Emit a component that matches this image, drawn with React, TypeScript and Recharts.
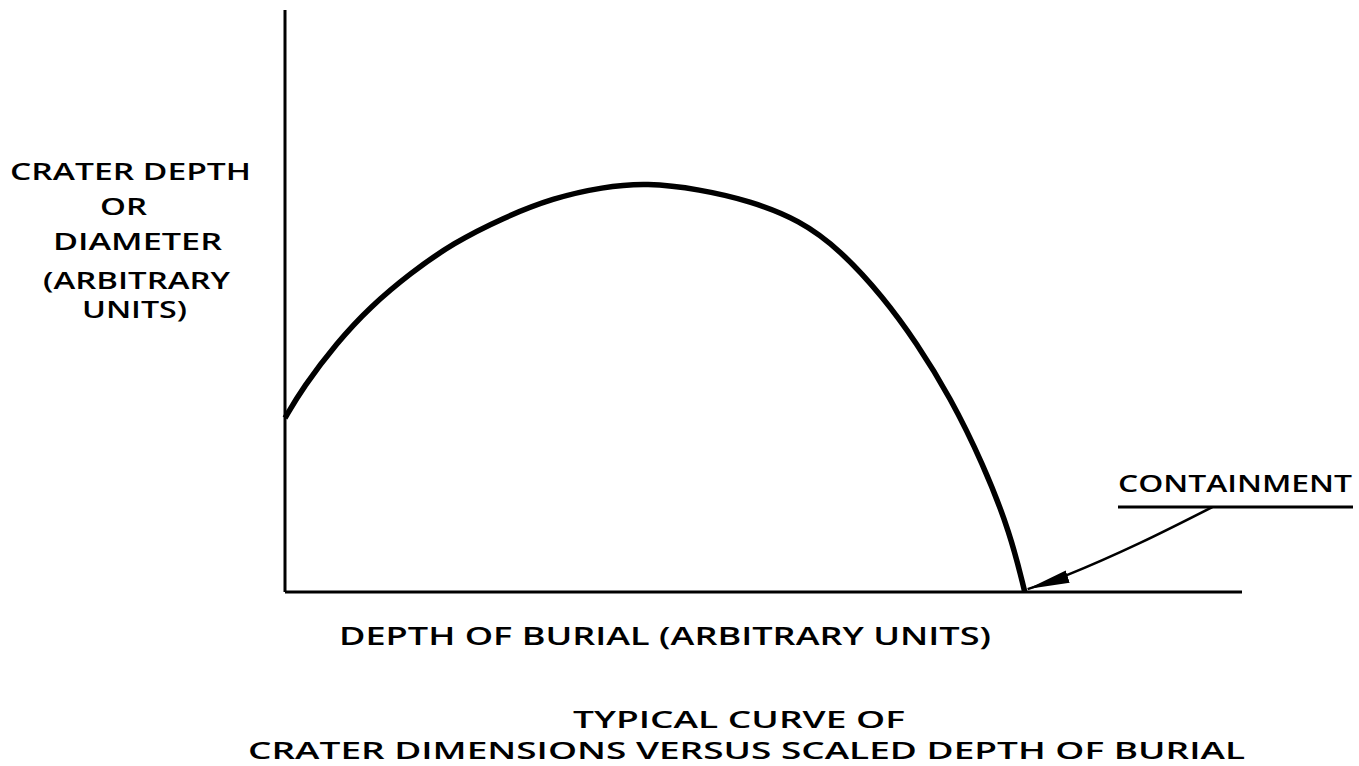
import React from "react";
import { LineChart, Line, XAxis, YAxis, ReferenceLine } from "recharts";

// Typical curve of crater dimension vs depth of burial (arbitrary units)
const depthOfBurial = [0, 1.9, 5.4, 8.9, 13.1, 17.6, 22.8, 28.0, 33.2, 37.8, 43.3, 48.6, 53.8, 58.0, 62.5, 66.0, 69.5, 72.9, 75.8, 77.3];
const craterSize = [29.9, 35.2, 42.8, 49.0, 54.8, 60.0, 64.3, 67.7, 69.6, 70.3, 69.2, 67.2, 63.9, 58.8, 50.7, 42.8, 33.5, 22.2, 10.1, 0];

// Leader arrow from the "CONTAINMENT" label to the containment point
const arrowX = [96.9, 89.3, 81.7, 77.6];
const arrowY = [14.6, 8.4, 2.9, 0.5];

const curveData = depthOfBurial.map((x, i) => ({ x, y: craterSize[i] }));
const arrowData = arrowX.map((x, i) => ({ x, a: arrowY[i] }));

const FONT = "'Open Sans', 'DejaVu Sans', sans-serif";

const texts = [
  { t: "CRATER DEPTH", x: 10, y: 180, w: 241, s: 23 },
  { t: "OR", x: 100, y: 215, w: 47, s: 23 },
  { t: "DIAMETER", x: 53, y: 250, w: 169, s: 23 },
  { t: "(ARBITRARY", x: 43, y: 289, w: 187, s: 23 },
  { t: "UNITS)", x: 82, y: 318, w: 105, s: 23 },
  { t: "CONTAINMENT", x: 1118, y: 492, w: 234, s: 24 },
  { t: "DEPTH OF BURIAL (ARBITRARY UNITS)", x: 339, y: 645, w: 652, s: 26 },
  { t: "TYPICAL CURVE OF", x: 573, y: 728, w: 332, s: 23 },
  { t: "CRATER DIMENSIONS VERSUS SCALED DEPTH OF BURIAL", x: 248, y: 759, w: 997, s: 23 },
];

export default function App() {
  return (
    <div style={{ position: "absolute", left: 0, top: 0, width: 1359, height: 766, background: "#fff" }}>
      <svg width={0} height={0} style={{ position: "absolute" }}>
        <defs>
          <marker
            id="arrowHead"
            markerUnits="userSpaceOnUse"
            markerWidth={44}
            markerHeight={16}
            refX={42}
            refY={8}
            orient="auto"
          >
            <path d="M0,1.5 L42,8 L0,14.5 Z" fill="#000" />
          </marker>
        </defs>
      </svg>
      <LineChart
        width={1359}
        height={766}
        data={curveData}
        margin={{ top: 10, right: 117, bottom: 174, left: 285 }}
      >
        <XAxis dataKey="x" type="number" domain={[0, 100]} hide />
        <YAxis type="number" domain={[0, 100]} hide />
        <ReferenceLine x={0} stroke="#000" strokeWidth={3} />
        <ReferenceLine y={0} stroke="#000" strokeWidth={3} />
        <Line
          dataKey="y"
          type="basis"
          stroke="#000"
          strokeWidth={5.5}
          dot={false}
          isAnimationActive={false}
        />
        <Line
          data={arrowData}
          dataKey="a"
          type="natural"
          stroke="#000"
          strokeWidth={2.5}
          dot={false}
          markerEnd="url(#arrowHead)"
          isAnimationActive={false}
        />
      </LineChart>
      <svg
        width={1359}
        height={766}
        style={{ position: "absolute", left: 0, top: 0, pointerEvents: "none" }}
      >
        {texts.map((d) => (
          <text
            key={d.t}
            x={d.x}
            y={d.y}
            textLength={d.w}
            lengthAdjust="spacingAndGlyphs"
            fontFamily={FONT}
            fontWeight={600}
            fontSize={d.s}
            fill="#000"
          >
            {d.t}
          </text>
        ))}
        <line x1={1118} y1={507} x2={1353} y2={507} stroke="#000" strokeWidth={3} />
      </svg>
    </div>
  );
}
